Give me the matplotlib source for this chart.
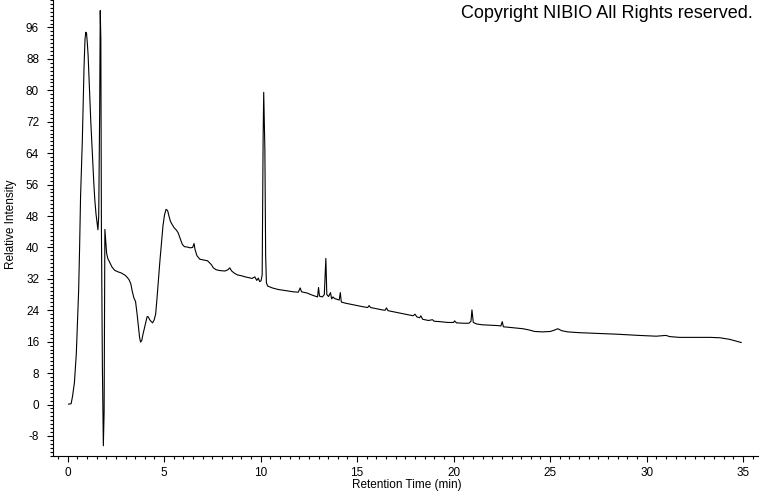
import numpy as np
import matplotlib
matplotlib.use('Agg')
import matplotlib.pyplot as plt
from matplotlib.ticker import MultipleLocator

tiempo = [0.05, 0.18, 0.25, 0.35, 0.45, 0.52, 0.57, 0.62, 0.67, 0.72, 0.76, 0.81,
          0.85, 0.90, 0.94, 0.98, 1.02, 1.06, 1.10, 1.15, 1.20, 1.25, 1.31, 1.36,
          1.41, 1.47, 1.52, 1.57, 1.61, 1.66, 1.69, 1.72, 1.75, 1.80, 1.85, 1.89,
          1.93, 1.97, 2.02, 2.08, 2.18, 2.30, 2.43, 2.60, 2.78, 2.95, 3.05, 3.18,
          3.27, 3.35, 3.43, 3.52, 3.60, 3.67, 3.73, 3.78, 3.84, 3.90, 3.97, 4.05,
          4.12, 4.18, 4.25, 4.32, 4.40, 4.48, 4.56, 4.63, 4.70, 4.78, 4.86, 4.94,
          5.02, 5.10, 5.18, 5.25, 5.33, 5.42, 5.52, 5.62, 5.72, 5.83, 5.94, 6.05,
          6.20, 6.35, 6.48, 6.55, 6.60, 6.70, 6.85, 7.05, 7.25, 7.45, 7.55, 7.70,
          7.90, 8.15, 8.30, 8.40, 8.50, 8.65, 8.80, 9.00, 9.20, 9.40, 9.55, 9.70,
          9.80, 9.88, 9.95, 10.02, 10.08, 10.13, 10.16, 10.19, 10.22, 10.26, 10.30,
          10.36, 10.45, 10.60, 10.90, 11.30, 11.70, 11.95, 12.05, 12.12, 12.40,
          12.70, 12.95, 13.00, 13.05, 13.20, 13.30, 13.38, 13.43, 13.52, 13.62,
          13.68, 13.75, 13.83, 13.95, 14.07, 14.13, 14.18, 14.40, 14.70, 15.00,
          15.30, 15.55, 15.62, 15.70, 16.00, 16.30, 16.45, 16.52, 16.60, 17.00,
          17.50, 17.90, 18.00, 18.10, 18.24, 18.30, 18.40, 18.70, 18.90, 19.00,
          19.30, 19.70, 20.00, 20.05, 20.15, 20.50, 20.80, 20.90, 20.95, 21.02,
          21.20, 21.50, 21.90, 22.30, 22.45, 22.52, 22.58, 23.00, 23.60, 23.90,
          24.20, 24.60, 25.00, 25.20, 25.40, 25.60, 25.90, 26.50, 27.00, 27.60,
          28.50, 29.60, 30.50, 31.00, 31.20, 31.70, 32.50, 33.30, 33.80, 34.30,
          34.60, 34.90]

intensidad = [0.1, 0.2, 2.0, 5.5, 13.0, 22.0, 29.0, 40.0, 53.0, 61.0, 67.0, 77.0,
              86.0, 93.0, 94.8, 94.5, 92.0, 89.0, 84.0, 78.0, 72.0, 67.0, 61.0, 56.0,
              52.0, 48.5, 46.5, 44.5, 48.0, 75.0, 100.3, 93.0, 45.0, 10.0, -10.5, -2.0,
              44.6, 42.0, 38.5, 37.2, 36.2, 35.0, 34.2, 33.8, 33.5, 33.0, 32.6, 31.8,
              30.8, 28.8, 27.2, 26.2, 23.0, 19.8, 17.0, 15.9, 16.3, 17.8, 19.3, 21.0,
              22.4, 22.3, 21.6, 21.2, 20.8, 21.5, 23.0, 27.0, 31.5, 36.5, 41.0, 45.5,
              48.3, 49.7, 49.4, 48.0, 46.6, 45.8, 45.0, 44.5, 43.8, 42.3, 40.8, 40.2,
              40.1, 39.9, 40.0, 41.0, 39.5, 37.9, 37.0, 36.8, 36.6, 35.6, 34.8, 34.3,
              34.1, 34.0, 34.3, 34.8, 34.0, 33.4, 33.0, 32.8, 32.5, 32.3, 32.1, 32.5,
              31.6, 32.2, 31.3, 31.5, 33.0, 68.0, 79.5, 72.0, 65.0, 38.0, 31.0,
              30.2, 30.0, 29.7, 29.3, 29.0, 28.7, 28.6, 29.7, 28.7, 28.4,
              27.8, 27.4, 29.8, 27.6, 27.4, 28.0, 37.2, 28.0, 27.5, 28.5,
              26.9, 27.4, 27.0, 26.8, 26.6, 28.5, 26.1, 25.8, 25.5, 25.2,
              24.9, 24.7, 25.2, 24.7, 24.4, 24.1, 24.0, 24.6, 23.9, 23.5,
              23.0, 22.6, 23.0, 22.3, 22.1, 22.6, 21.7, 21.4, 21.6, 21.2,
              21.1, 20.9, 20.9, 21.3, 20.8, 20.7, 20.7, 21.2, 24.1, 20.9,
              20.5, 20.3, 20.2, 20.1, 20.0, 21.1, 19.8, 19.6, 19.3, 19.0,
              18.6, 18.5, 18.6, 18.9, 19.3, 18.8, 18.5, 18.3, 18.2, 18.1,
              17.9, 17.6, 17.4, 17.6, 17.3, 17.1, 17.1, 17.1, 17.0, 16.6,
              16.2, 15.8]

tiempo = np.array(tiempo)
intensidad = np.array(intensidad)

plt.rcParams['font.family'] = ['Liberation Sans', 'DejaVu Sans']
plt.rcParams['axes.unicode_minus'] = False

fig = plt.figure(figsize=(7.6, 4.92), dpi=100)
ax = fig.add_axes([0.0697, 0.0732, 0.9276, 0.9268])

ax.plot(tiempo, intensidad, color='black', lw=0.8)

ax.set_xlim(-0.76, 35.77)
ax.set_ylim(-13.1, 103.0)

ax.xaxis.set_major_locator(MultipleLocator(5))
ax.xaxis.set_minor_locator(MultipleLocator(0.5))
ax.yaxis.set_major_locator(MultipleLocator(8))
ax.yaxis.set_minor_locator(MultipleLocator(1))

ax.tick_params(axis='both', which='major', length=4, width=0.8, labelsize=8.5)
ax.tick_params(axis='both', which='minor', length=2.2, width=0.8)
ax.tick_params(axis='y', which='major', pad=6)
ax.tick_params(axis='x', which='major', pad=4)

ax.spines['top'].set_visible(False)
ax.spines['right'].set_visible(False)
ax.spines['left'].set_linewidth(0.8)
ax.spines['bottom'].set_linewidth(0.8)

fig.text(0.535, 0.015, 'Retention Time (min)', ha='center', va='center', fontsize=8.5)
fig.text(0.014, 0.545, 'Relative Intensity', ha='center', va='center',
         rotation=90, fontsize=8.5)
fig.text(0.990, 0.990, 'Copyright NIBIO All Rights reserved.', ha='right', va='top',
         fontsize=13)

fig.savefig('out.png', dpi=100)
